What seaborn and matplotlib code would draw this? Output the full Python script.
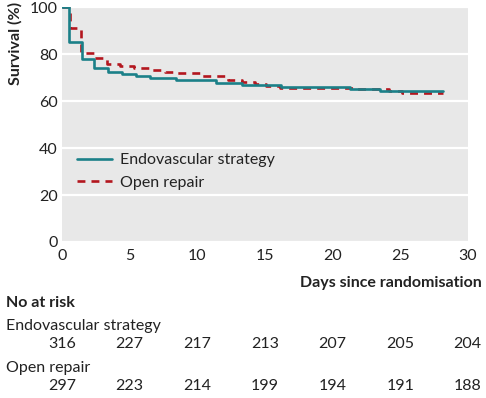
import pandas as pd
import matplotlib
matplotlib.use("Agg")
import matplotlib.pyplot as plt
import seaborn as sns

# Kaplan-Meier steps (days, survival %)
endo_days = [0, 0.55, 1.45, 2.4, 3.4, 4.4, 5.5, 6.5, 8.4, 11.4, 13.3, 16.2, 17.1, 21.3, 23.5, 28.2]
endo_surv = [100, 85, 78, 74.3, 72.2, 71.5, 70.6, 69.8, 68.8, 67.6, 66.9, 66.2, 65.8, 65.2, 64.5, 64.5]

open_days = [0, 0.6, 1.4, 2.35, 3.35, 4.25, 5.35, 6.6, 7.6, 8.5, 10.3, 12.3, 13.3, 14.3, 15.1,
             16.1, 18.0, 21.5, 24.2, 25.1, 28.2]
open_surv = [100, 91, 80.6, 78.4, 76, 75, 73.9, 73.2, 72.6, 72, 70.5, 69, 68, 67.2, 66.4,
             65.7, 65.5, 65.1, 64.2, 63.3, 63.3]

# numbers at risk
risk_days = [0, 5, 10, 15, 20, 25, 30]
endo_risk = [316, 227, 217, 213, 207, 205, 204]
open_risk = [297, 223, 214, 199, 194, 191, 188]

x_ticks = [0, 5, 10, 15, 20, 25, 30]
y_ticks = [0, 20, 40, 60, 80, 100]

teal = "#1b8088"
red = "#b3161e"
txt = "#222222"
fs = 11.5

sns.set_theme(style="darkgrid", rc={
    "axes.facecolor": "#e8e8e8",
    "grid.color": "white",
    "grid.linewidth": 1.6,
    "axes.grid.axis": "y",
})
plt.rcParams["font.family"] = ["Lato", "DejaVu Sans"]

fig = plt.figure(figsize=(4.86, 3.98), dpi=100)
ax = fig.add_axes([0.1276, 0.392, 0.835, 0.590])

endo = pd.DataFrame({"days": endo_days, "surv": endo_surv})
opn = pd.DataFrame({"days": open_days, "surv": open_surv})

sns.lineplot(data=opn, x="days", y="surv", ax=ax, color=red, linewidth=1.9,
             drawstyle="steps-post", linestyle=(0, (3.0, 2.3)), label="Open repair", zorder=3)
sns.lineplot(data=endo, x="days", y="surv", ax=ax, color=teal, linewidth=1.9,
             drawstyle="steps-post", label="Endovascular strategy", zorder=4)

ax.set_xlim(0, 29.8)
ax.set_ylim(0, 100)
ax.set_xticks(x_ticks)
ax.set_yticks(y_ticks)
ax.tick_params(axis="both", labelsize=fs, length=0, colors=txt)
ax.tick_params(axis="x", pad=5)
ax.tick_params(axis="y", pad=3)
ax.set_xlabel("")
ax.set_ylabel("")
for s in ax.spines.values():
    s.set_visible(False)

h, l = ax.get_legend_handles_labels()
ax.legend(h[::-1], l[::-1], loc="upper left", bbox_to_anchor=(0.02, 0.405), frameon=False,
          fontsize=fs, handlelength=2.2, handletextpad=0.5, labelspacing=0.5,
          labelcolor=txt, borderaxespad=0)

fig.text(0.031, 0.892, "Survival (%)", rotation=90, ha="center", va="center",
         fontsize=fs, fontweight="bold", color=txt)
fig.text(0.991, 0.289, "Days since randomisation", ha="right", va="center",
         fontsize=fs, fontweight="bold", color=txt)
fig.text(0.012, 0.238, "No at risk", ha="left", va="center",
         fontsize=fs, fontweight="bold", color=txt)
fig.text(0.012, 0.181, "Endovascular strategy", ha="left", va="center",
         fontsize=fs, color=txt)
fig.text(0.012, 0.075, "Open repair", ha="left", va="center",
         fontsize=fs, color=txt)

trans = ax.get_xaxis_transform()
for rows, yfig in [(endo_risk, 0.136), (open_risk, 0.030)]:
    for d, n in zip(risk_days, rows):
        # convert figure y to axes y for the blended transform
        yax = (yfig - 0.392) / 0.590
        if d == risk_days[-1]:
            fig.text(0.991, yfig, str(n), ha="right", va="center", fontsize=fs, color=txt)
        else:
            ax.text(d, yax, str(n), transform=trans, ha="center", va="center",
                    fontsize=fs, color=txt, clip_on=False)

fig.savefig("out.png", dpi=100)
